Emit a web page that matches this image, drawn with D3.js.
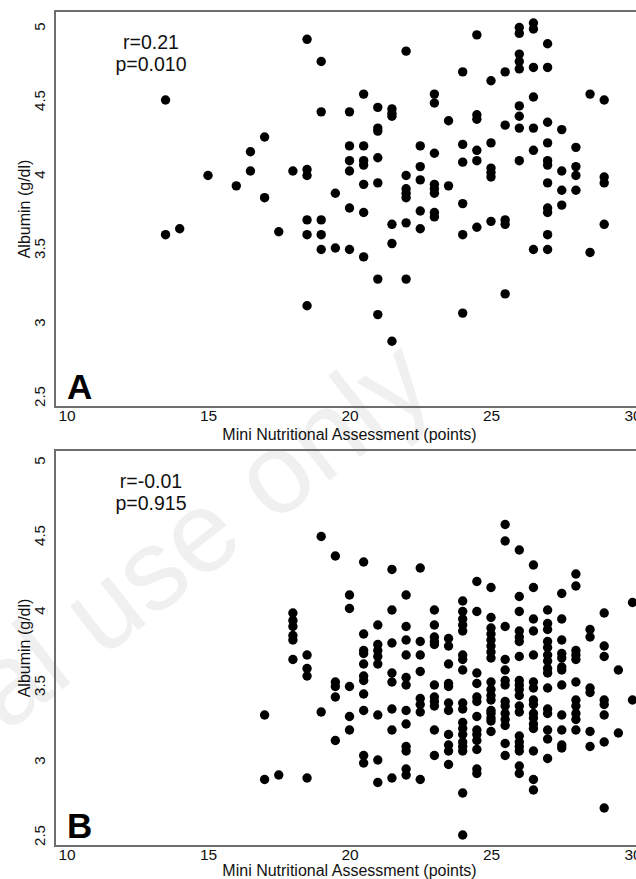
<!DOCTYPE html>
<html>
<head>
<meta charset="utf-8">
<script src="https://cdn.jsdelivr.net/npm/d3@7"></script>
<style>
  body { margin: 0; background: #fff; }
  svg text { font-family: Arial, "Liberation Sans", sans-serif; }
</style>
</head>
<body>
<div id="chart"></div>
<script>
// tick labels
var xTicks = [10, 15, 20, 25, 30];
var yTicks = [2.5, 3, 3.5, 4, 4.5, 5];

// Panel A: MNA score columns and the albumin values seen in each column
var mnaA = [13.5, 14, 15, 16, 16.5, 17, 17.5, 18, 18.5, 19, 19.5, 20, 20.5, 21, 21.5,
    22, 22.5, 23, 23.5, 24, 24.5, 25, 25.5, 26, 26.5, 27, 27.5, 28, 28.5, 29];
var albuminA = [
    [4.50, 3.59], [3.63], [3.99], [3.92], [4.15, 4.02], [4.25, 3.84], [3.61], [4.02],
    [4.91, 4.03, 3.99, 3.69, 3.59, 3.11],
    [4.76, 4.42, 3.69, 3.59, 3.49],
    [3.87, 3.50],
    [4.42, 4.19, 4.09, 4.02, 3.77, 3.49],
    [4.54, 4.19, 4.09, 4.06, 3.93, 3.74, 3.44],
    [4.45, 4.31, 4.29, 4.11, 3.94, 3.29, 3.05],
    [4.44, 4.41, 4.39, 3.66, 3.53, 2.87],
    [4.83, 3.99, 3.90, 3.87, 3.84, 3.67, 3.29],
    [4.19, 4.05, 3.96, 3.75, 3.63],
    [4.54, 4.48, 4.14, 3.93, 3.90, 3.87, 3.74, 3.71],
    [4.36, 3.92],
    [4.69, 4.20, 4.08, 3.80, 3.59, 3.06],
    [4.94, 4.40, 4.37, 4.16, 4.09, 3.64],
    [4.63, 4.21, 4.04, 4.01, 3.98, 3.68],
    [4.69, 4.33, 3.69, 3.66, 3.19],
    [4.99, 4.95, 4.81, 4.76, 4.71, 4.46, 4.39, 4.31, 4.09],
    [5.02, 4.98, 4.72, 4.52, 4.31, 4.16, 3.49],
    [4.88, 4.72, 4.35, 4.21, 4.09, 4.06, 3.94, 3.77, 3.74, 3.59, 3.49],
    [4.30, 4.02, 3.89, 3.79],
    [4.18, 4.05, 3.99, 3.89],
    [4.54, 3.47],
    [4.50, 3.98, 3.94, 3.66]
];
var statsA = ["r=0.21", "p=0.010"];

// Panel B
var mnaB = [17, 17.5, 18, 18.5, 19, 19.5, 20, 20.5, 21, 21.5, 22, 22.5, 23, 23.5, 24,
    24.5, 25, 25.5, 26, 26.5, 27, 27.5, 28, 28.5, 29, 29.5, 30];
var albuminB = [
    [3.30, 2.87],
    [2.90],
    [3.98, 3.93, 3.89, 3.83, 3.80, 3.67],
    [3.70, 3.61, 3.56, 2.88],
    [4.49, 3.32],
    [4.36, 3.52, 3.49, 3.42, 3.13],
    [4.10, 4.01, 3.49, 3.29, 3.20],
    [4.32, 3.84, 3.73, 3.71, 3.64, 3.56, 3.53, 3.44, 3.33, 3.03, 2.98],
    [3.90, 3.77, 3.73, 3.69, 3.64, 3.30, 3.00, 2.85],
    [4.27, 4.00, 3.78, 3.58, 3.52, 3.34, 3.20, 2.88],
    [4.10, 3.89, 3.80, 3.70, 3.55, 3.50, 3.33, 3.24, 3.09, 3.06, 2.94, 2.90],
    [4.28, 3.79, 3.70, 3.59, 3.41, 3.37, 3.32, 2.87],
    [4.00, 3.90, 3.82, 3.79, 3.77, 3.50, 3.42, 3.39, 3.36, 3.20, 3.03],
    [3.81, 3.76, 3.64, 3.51, 3.49, 3.38, 3.33, 3.17, 3.10, 3.06, 2.97],
    [4.06, 3.99, 3.94, 3.90, 3.86, 3.70, 3.67, 3.60, 3.38, 3.34, 3.25, 3.21, 3.17, 3.12, 3.09, 3.06, 2.78, 2.50],
    [4.19, 3.99, 3.58, 3.51, 3.42, 3.39, 3.29, 3.20, 3.17, 3.13, 3.07, 2.94, 2.91],
    [4.15, 3.95, 3.88, 3.84, 3.80, 3.76, 3.72, 3.68, 3.52, 3.47, 3.43, 3.40, 3.33, 3.31, 3.28, 3.26, 3.19],
    [4.57, 4.46, 3.89, 3.67, 3.60, 3.53, 3.50, 3.39, 3.36, 3.31, 3.27, 3.23, 3.11, 3.03],
    [4.40, 4.09, 3.99, 3.86, 3.82, 3.79, 3.69, 3.53, 3.50, 3.47, 3.43, 3.36, 3.32, 3.16, 3.12, 3.09, 3.06, 2.96, 2.91],
    [4.30, 4.15, 3.94, 3.86, 3.70, 3.52, 3.48, 3.40, 3.37, 3.31, 3.28, 3.24, 3.21, 3.06, 2.87, 2.80],
    [4.00, 3.91, 3.87, 3.79, 3.75, 3.70, 3.66, 3.61, 3.58, 3.48, 3.34, 3.31, 3.20, 3.14, 3.01],
    [4.11, 3.94, 3.80, 3.71, 3.68, 3.62, 3.60, 3.50, 3.30, 3.20, 3.10, 3.08],
    [4.24, 4.16, 3.73, 3.70, 3.67, 3.52, 3.40, 3.36, 3.31, 3.27, 3.20],
    [3.87, 3.82, 3.48, 3.45, 3.19, 3.09],
    [3.98, 3.76, 3.69, 3.40, 3.37, 3.30, 3.12, 2.68],
    [3.60, 3.18],
    [4.05, 3.40]
];
var statsB = ["r=-0.01", "p=0.915"];

var xTitle = "Mini Nutritional Assessment (points)";
var yTitle = "Albumin (g/dl)";

var svgWidth = 636;
var svgHeight = 879;

var svg = d3.select("#chart")
    .append("svg")
    .attr("width", svgWidth)
    .attr("height", svgHeight);

// faint watermark behind everything
svg.append("text")
    .attr("transform", "translate(439, 395) rotate(-38)")
    .attr("text-anchor", "end")
    .attr("font-size", "115px")
    .attr("fill", "#f0f0f0")
    .text("Non-commercial use only");

var xScale = d3.scaleLinear().domain([10, 30]).range([66.5, 632.5]);

var frameLeft = 55;
var frameRight = 644;

var panels = [
    { mna: mnaA, alb: albuminA, stats: statsA, letter: "A", top: 11, bottom: 407, y5: 26, y25: 396, titleGap: 33 },
    { mna: mnaB, alb: albuminB, stats: statsB, letter: "B", top: 450, bottom: 846, y5: 460, y25: 835, titleGap: 29.5 }
];

panels.forEach(function (p) {
    var yScale = d3.scaleLinear().domain([2.5, 5]).range([p.y25, p.y5]);

    var points = [];
    p.mna.forEach(function (m, i) {
        p.alb[i].forEach(function (v) {
            points.push({ mna: m, albumin: v });
        });
    });

    // plot frame
    svg.append("rect")
        .attr("x", frameLeft)
        .attr("y", p.top)
        .attr("width", frameRight - frameLeft)
        .attr("height", p.bottom - p.top)
        .attr("fill", "none")
        .attr("stroke", "#6e6e6e")
        .attr("stroke-width", 2);

    // x axis
    var xAxis = svg.append("g")
        .attr("transform", `translate(0, ${p.bottom})`)
        .call(d3.axisBottom(xScale).tickValues(xTicks).tickSize(0).tickFormat(d3.format("d")));
    xAxis.select(".domain").remove();
    xAxis.selectAll("text")
        .attr("y", 14)
        .attr("dy", 0)
        .attr("font-size", "15.5px")
        .attr("font-family", null)
        .attr("fill", "#111");

    // y axis, rotated labels
    var yAxis = svg.append("g")
        .attr("transform", `translate(${frameLeft}, 0)`)
        .call(d3.axisLeft(yScale).tickValues(yTicks).tickSize(0).tickFormat(d => d));
    yAxis.select(".domain").remove();
    yAxis.selectAll("text")
        .attr("transform", "rotate(-90)")
        .attr("x", 0)
        .attr("y", -10)
        .attr("dy", 0)
        .attr("text-anchor", "middle")
        .attr("font-size", "15px")
        .attr("font-family", null)
        .attr("fill", "#111");

    // axis titles
    svg.append("text")
        .attr("x", (frameLeft + frameRight) / 2)
        .attr("y", p.bottom + p.titleGap)
        .attr("text-anchor", "middle")
        .attr("font-size", "16px")
        .attr("fill", "#111")
        .text(xTitle);

    svg.append("text")
        .attr("transform", `translate(30, ${(p.top + p.bottom) / 2}) rotate(-90)`)
        .attr("text-anchor", "middle")
        .attr("font-size", "16px")
        .attr("fill", "#111")
        .text(yTitle);

    // points
    svg.append("g")
        .selectAll("circle")
        .data(points)
        .enter()
        .append("circle")
        .attr("cx", d => xScale(d.mna))
        .attr("cy", d => yScale(d.albumin))
        .attr("r", 4.7)
        .attr("fill", "#000");

    // r / p annotation
    p.stats.forEach(function (s, i) {
        svg.append("text")
            .attr("x", 151)
            .attr("y", p.top + 38 + i * 21.5)
            .attr("text-anchor", "middle")
            .attr("font-size", "19.5px")
            .attr("fill", "#111")
            .text(s);
    });

    // panel letter
    svg.append("text")
        .attr("x", 67)
        .attr("y", p.bottom - 8)
        .attr("font-size", "35px")
        .attr("font-weight", "bold")
        .attr("fill", "#000")
        .text(p.letter);
});
</script>
</body>
</html>
